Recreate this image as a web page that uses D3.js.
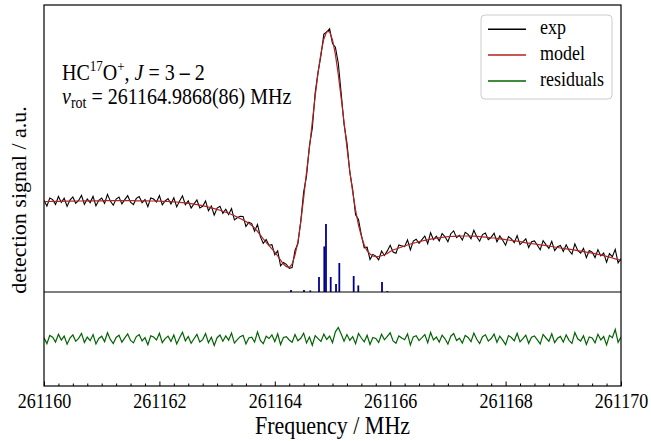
<!DOCTYPE html>
<html>
<head>
<meta charset="utf-8">
<script src="https://d3js.org/d3.v7.min.js"></script>
<style>
  body { margin: 0; background: #fff; }
  text { font-family: "Liberation Serif", "Times New Roman", serif; fill: #000; }
</style>
</head>
<body>
<svg id="chart" width="651" height="441"></svg>
<script>
// frequency grid of the scan (MHz)
var f0 = 261160, fStep = 0.05;

// fitted model (a.u.)
var model = [
  90.4, 90.5, 90.5, 90.6, 90.6, 90.7, 90.7, 90.8, 90.8, 90.9,
  90.9, 91.0, 91.0, 91.0, 91.1, 91.1, 91.1, 91.2, 91.2, 91.2,
  91.2, 91.3, 91.3, 91.3, 91.3, 91.3, 91.3, 91.3, 91.3, 91.3,
  91.3, 91.3, 91.2, 91.2, 91.2, 91.1, 91.1, 91.0, 91.0, 90.9,
  90.8, 90.7, 90.6, 90.5, 90.4, 90.2, 90.0, 89.7, 89.4, 89.1,
  88.7, 88.3, 87.9, 87.4, 86.9, 86.3, 85.7, 85.0, 84.2, 83.4,
  82.6, 81.7, 80.8, 79.8, 78.7, 77.5, 76.2, 74.9, 73.5, 72.0,
  70.5, 68.7, 66.6, 63.9, 60.6, 56.9, 53.2, 49.7, 46.3, 43.1,
  39.8, 36.0, 31.8, 28.0, 25.3, 24.6, 27.8, 37.0, 50.0, 70.0,
  94.0, 120.0, 144.0, 170.0, 196.0, 219.5, 239.0, 253.0, 260.5, 260.3,
  252.0, 237.6, 217.5, 194.0, 170.0, 144.7, 121.0, 100.0, 82.0, 67.0,
  56.0, 47.0, 41.0, 38.0, 36.0, 35.3, 35.5, 36.3, 37.3, 38.5,
  40.5, 42.0, 43.0, 44.0, 45.0, 46.0, 47.0, 48.0, 48.8, 49.5,
  50.3, 51.0, 51.6, 52.2, 52.8, 53.3, 53.8, 54.2, 54.6, 55.0,
  55.3, 55.5, 55.7, 55.8, 55.9, 56.0, 56.0, 56.0, 55.9, 55.8,
  55.6, 55.4, 55.1, 54.8, 54.5, 54.2, 54.0, 53.6, 53.2, 52.8,
  52.4, 52.0, 51.6, 51.2, 50.8, 50.3, 49.8, 49.2, 48.8, 48.4,
  48.0, 47.6, 47.2, 46.8, 46.4, 46.0, 45.5, 45.0, 44.5, 44.0,
  43.6, 43.2, 42.8, 42.3, 41.8, 41.3, 40.8, 40.3, 39.8, 39.3,
  38.8, 38.3, 37.7, 37.1, 36.4, 35.6, 34.8, 34.0, 33.2, 32.4,
  31.5
];

// residuals exp - model (a.u.)
var resid = [
  1.2, -4.6, 3.5, 1.8, -3.0, 4.8, -1.1, 2.9, -5.2, 1.0,
  4.1, -2.3, 0.6, 5.6, -3.4, 1.9, -1.7, 4.4, -5.0, 0.5,
  2.8, -2.6, 6.3, -0.4, -4.5, 1.6, 3.7, -3.2, 1.1, 5.0,
  -1.5, -3.9, 2.4, 4.3, -2.0, 1.3, -5.8, 3.1, 2.0, -0.9,
  5.7, -3.6, 0.4, 2.9, -2.4, 4.0, -4.9, 1.2, 6.8, -1.8,
  2.5, -4.3, 0.2, 4.6, -2.9, -0.6, 5.4, -3.7, 1.7, -6.5,
  1.3, 3.9, -2.2, 3.0, -1.2, 6.0, -4.1, -0.7, 2.3, 3.6,
  -5.0, 1.0, 1.8, -3.1, 7.0, -1.5, -4.6, 2.8, 0.5, 4.2,
  -2.6, 5.2, -5.6, 1.5, 2.4, -1.0, -3.3, 4.5, -1.8, 0.7,
  5.8, -3.9, 2.0, -6.2, 3.4, 0.3, -2.5, 4.9, -0.5, 2.9,
  -3.6, 7.2, 11.5, 5.0, -2.3, 4.4, -1.3, 2.4, -4.7, 5.5,
  1.0, -2.8, 3.8, -5.4, 1.6, 0.6, -3.4, 4.7, -0.8, 2.6,
  6.2, -2.0, -4.3, 3.1, 1.1, -0.7, 5.1, -5.9, 2.1, 3.3,
  -1.6, 1.3, 4.4, -3.8, 6.5, -1.0, 2.0, -3.1, 3.9, 0.2,
  -5.1, 2.8, 5.4, -1.5, 0.8, -4.1, 3.6, 1.6, -2.6, 5.9,
  -0.3, -4.6, 2.3, 4.2, -2.1, 0.5, 4.9, -3.3, 2.9, -1.1,
  -5.6, 3.4, 1.5, -1.8, 5.7, -2.9, 0.3, 3.9, -4.3, 1.8,
  3.1, -0.8, -4.9, 4.6, 1.0, -2.3, 5.2, -3.6, 0.7, 2.6,
  -3.1, 4.1, -1.3, -4.4, 6.4, 0.2, -2.0, 3.3, -5.4, 2.1,
  1.1, -3.9, 4.7, -1.0, 2.5, -5.9, 3.6, 1.3, 9.5, -3.3,
  2.0
];

// hyperfine components (stick spectrum)
var stickFreq = [261164.281, 261164.506, 261164.615, 261164.766, 261164.858, 261164.887,
                 261164.969, 261165.061, 261165.118, 261165.367, 261165.447, 261165.858, 261165.950];
var stickInt  = [2.0, 2.0, 1.6, 15.0, 45.6, 68.0, 15.0, 8.0, 29.0, 16.0, 6.6, 10.0, 1.0];

var xMajor = [261160, 261162, 261164, 261166, 261168, 261170];
var legendNames = ["exp", "model", "residuals"];
var legendColors = ["#000000", "#b22222", "#006400"];

var freq = model.map(function(d, i) { return f0 + i * fStep; });
var expData = model.map(function(d, i) { return d + resid[i]; });

var serif = "'Liberation Serif', 'Times New Roman', serif";
var svg = d3.select("#chart").attr("font-family", serif);
var k = 1.15; // vertical stretch of the lettering

var x = d3.scaleLinear().domain([261160, 261170]).range([44, 621]);
var yTop = d3.scaleLinear().domain([0, 287]).range([292, 5]);
var yBot = d3.scaleLinear().domain([-47, 47]).range([386, 292]);

var defs = svg.append("defs");
defs.append("clipPath").attr("id", "clipTop").append("rect")
  .attr("x", 44).attr("y", 5).attr("width", 577).attr("height", 287);
defs.append("clipPath").attr("id", "clipBot").append("rect")
  .attr("x", 44).attr("y", 292).attr("width", 577).attr("height", 94);

var gTop = svg.append("g").attr("clip-path", "url(#clipTop)");
var gBot = svg.append("g").attr("clip-path", "url(#clipBot)");

// sticks
gTop.selectAll("line.stick").data(stickFreq).enter().append("line")
  .attr("class", "stick")
  .attr("x1", function(d) { return x(d); })
  .attr("x2", function(d) { return x(d); })
  .attr("y1", yTop(0))
  .attr("y2", function(d, i) { return yTop(stickInt[i]); })
  .attr("stroke", "#00008b")
  .attr("stroke-width", 1.8);

var lineTop = d3.line()
  .x(function(d, i) { return x(freq[i]); })
  .y(function(d) { return yTop(d); });
var lineBot = d3.line()
  .x(function(d, i) { return x(freq[i]); })
  .y(function(d) { return yBot(d); });

gTop.append("path").attr("d", lineTop(expData))
  .attr("fill", "none").attr("stroke", legendColors[0]).attr("stroke-width", 1.1);
gTop.append("path").attr("d", lineTop(model))
  .attr("fill", "none").attr("stroke", legendColors[1]).attr("stroke-width", 1.2);
gBot.append("path").attr("d", lineBot(resid))
  .attr("fill", "none").attr("stroke", legendColors[2]).attr("stroke-width", 1.2);

// frame
svg.append("rect").attr("x", 44).attr("y", 5).attr("width", 577).attr("height", 381)
  .attr("fill", "none").attr("stroke", "#000").attr("stroke-width", 1.2);
svg.append("line").attr("x1", 44).attr("x2", 621).attr("y1", 292).attr("y2", 292)
  .attr("stroke", "#000").attr("stroke-width", 1.2);

// x axis, ticks pointing inwards
var xMinor = d3.range(261160, 261170.01, 0.25).filter(function(v) { return xMajor.indexOf(v) < 0; });
svg.append("g").attr("transform", "translate(0,386)")
  .call(d3.axisBottom(x).tickValues(xMinor).tickSize(-2.5).tickFormat(""))
  .call(function(g) { g.select(".domain").remove(); });
var ax = svg.append("g").attr("transform", "translate(0,386)")
  .call(d3.axisBottom(x).tickValues(xMajor).tickSize(-4.5).tickPadding(8).tickFormat(d3.format("d")));
ax.attr("font-family", serif).attr("font-size", 18);
ax.select(".domain").remove();
ax.selectAll("text")
  .attr("font-family", serif).style("font-family", serif).style("font-size", "18px")
  .each(function() {
    var t = d3.select(this);
    t.attr("y", 0).attr("dy", null)
     .attr("transform", "translate(0,21.8) scale(1," + k + ")");
  });

// axis labels
svg.append("text").attr("transform", "translate(332.5,434) scale(1,1.1)")
  .attr("text-anchor", "middle").style("font-size", "22px").text("Frequency / MHz");
svg.append("text").attr("transform", "translate(26,200) rotate(-90)")
  .attr("text-anchor", "middle").style("font-size", "22px").text("detection signal / a.u.");

// annotation
var a1 = svg.append("text").attr("transform", "translate(62,79.5) scale(1," + k + ")").style("font-size", "20px");
a1.append("tspan").text("HC");
a1.append("tspan").attr("dy", -7).style("font-size", "13px").text("17");
a1.append("tspan").attr("dy", 7).text("O");
a1.append("tspan").attr("dy", -7).style("font-size", "13px").text("+");
a1.append("tspan").attr("dy", 7).text(", ");
a1.append("tspan").style("font-style", "italic").text("J");
a1.append("tspan").text(" = 3 ");
a1.append("tspan").style("font-weight", "bold").text("\u2013");
a1.append("tspan").text(" 2");

var a2 = svg.append("text").attr("transform", "translate(62,103.5) scale(1," + k + ")").style("font-size", "20px");
a2.append("tspan").style("font-style", "italic").text("\u03bd");
a2.append("tspan").attr("dy", 4).style("font-size", "14px").text("rot");
a2.append("tspan").attr("dy", -4).text(" = 261164.9868(86) MHz");

// legend
var lg = svg.append("g");
lg.append("rect").attr("x", 481).attr("y", 15).attr("width", 131).attr("height", 84)
  .attr("rx", 4).attr("fill", "#fff").attr("fill-opacity", 0.8)
  .attr("stroke", "#cccccc").attr("stroke-width", 1);
legendNames.forEach(function(name, i) {
  var cy = 29.3 + i * 25.8;
  lg.append("line").attr("x1", 488).attr("x2", 526).attr("y1", cy).attr("y2", cy)
    .attr("stroke", legendColors[i]).attr("stroke-width", 1.5);
  lg.append("text").attr("transform", "translate(540," + (cy + 5) + ") scale(1," + k + ")")
    .style("font-size", "18px").text(name);
});
</script>
</body>
</html>
